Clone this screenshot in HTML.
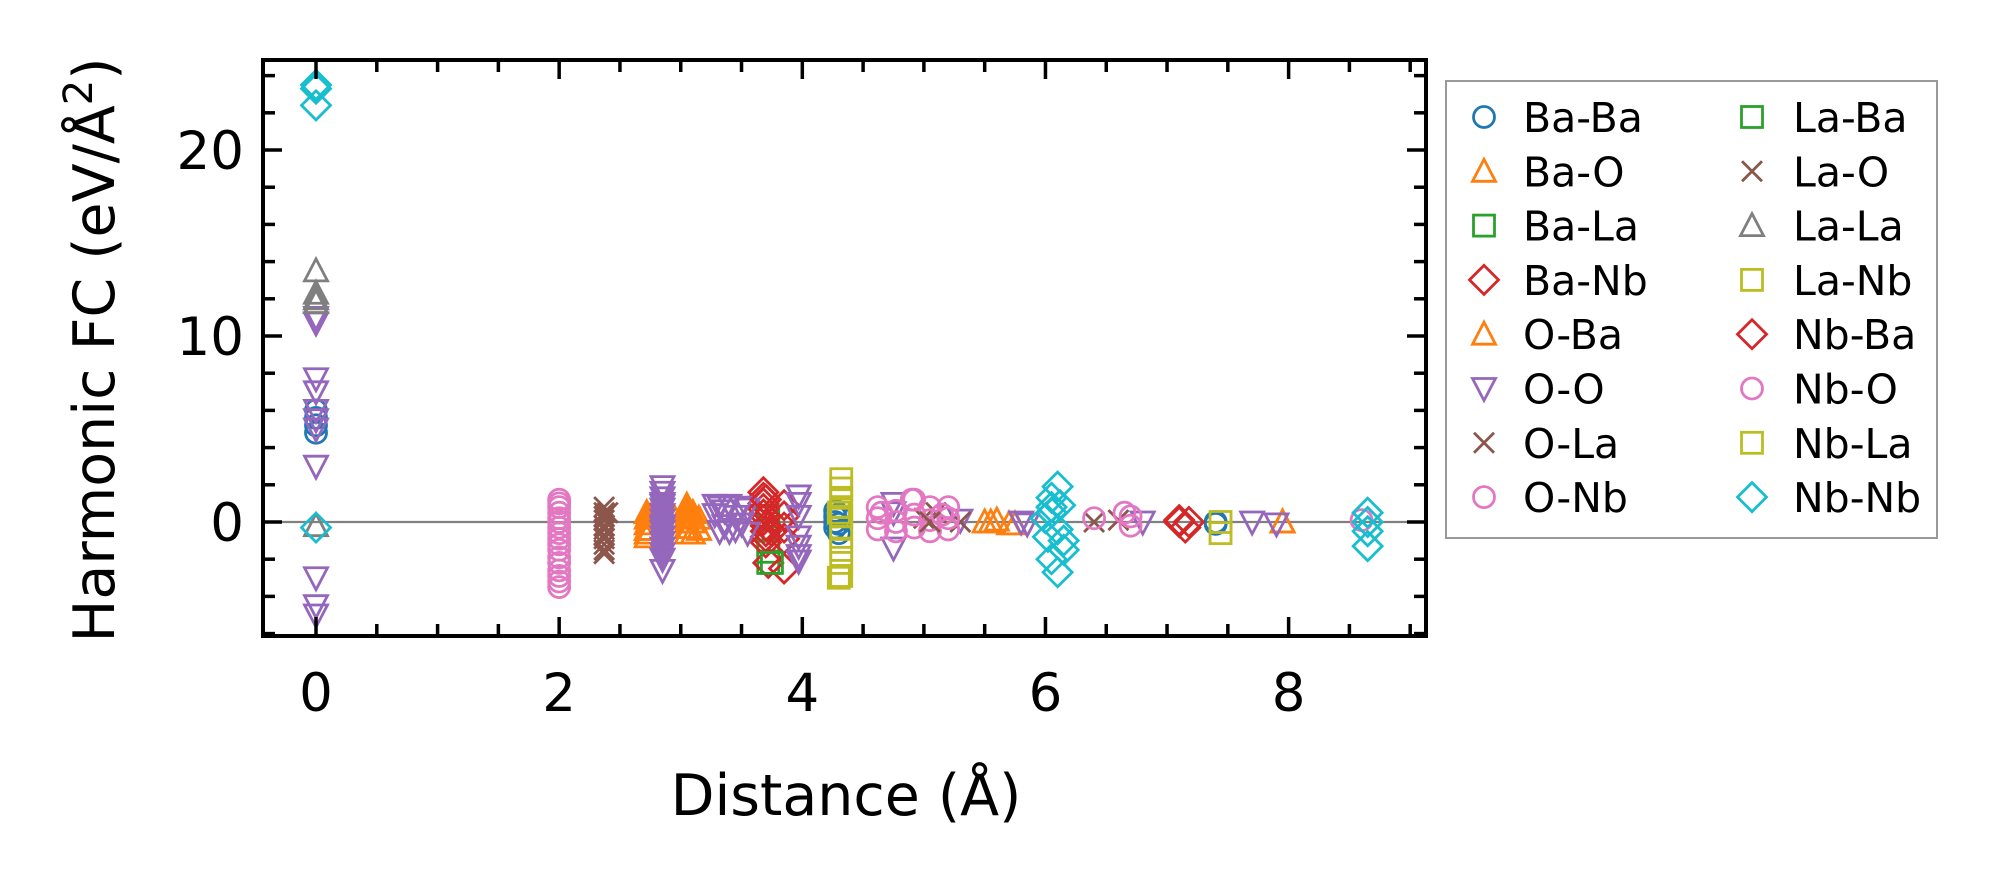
<!DOCTYPE html>
<html><head><meta charset="utf-8"><style>
html,body{margin:0;padding:0;background:#fff}
svg{display:block;font-family:"DejaVu Sans","Liberation Sans",sans-serif}
</style></head><body>
<svg id="chart" width="1996" height="883" viewBox="0 0 1996 883" xmlns="http://www.w3.org/2000/svg">
<g id="marks"></g>
<g id="axes"></g>
<g id="legend"></g>
</svg>
<script>
const seriesNames = ["Ba-Ba","Ba-O","Ba-La","Ba-Nb","O-Ba","O-O","O-La","O-Nb","La-Ba","La-O","La-La","La-Nb","Nb-Ba","Nb-O","Nb-La","Nb-Nb"];
const seriesColors = ["#1f77b4","#ff7f0e","#2ca02c","#d62728","#ff7f0e","#9467bd","#8c564b","#e377c2","#2ca02c","#8c564b","#7f7f7f","#bcbd22","#d62728","#e377c2","#bcbd22","#17becf"];
const seriesMarkers = ["o","^","s","D","^","v","x","o","s","x","^","s","D","o","s","D"];
const xBaBa = [0,0,0,0,4.27,4.27,4.27,4.27,4.3,4.3,4.3,7.4,7.4];
const yBaBa = [6.0,5.2,4.8,5.6,0.6,0.3,0.0,-0.3,-0.6,0.4,-0.1,0.0,-0.1];
const xBaO = [2.72,2.72,2.72,2.72,2.72,2.72,3.05,3.05,3.05,3.05,3.05,3.05,3.15,3.15,5.5,5.6,5.75,7.95];
const yBaO = [0.5,0.2,-0.1,-0.4,-0.6,-0.8,0.9,0.6,0.3,0.0,-0.3,-0.6,0.2,-0.4,0.0,0.1,-0.1,0.0];
const xBaLa = [3.72,3.72,3.72,3.72,3.72];
const yBaLa = [-2.2,-1.6,-1.0,-0.4,0.3];
const xBaNb = [3.68,3.68,3.68,3.68,3.68,3.68,3.7,3.7,3.7,3.7,3.72,3.85,3.85,3.85,3.85,3.85,7.1,7.15];
const yBaNb = [1.6,1.3,1.0,0.7,0.4,0.1,-0.2,-0.5,-0.8,-1.1,-2.2,0.9,0.3,-0.3,-0.9,-2.5,0.0,-0.3];
const xOBa = [2.75,2.75,2.95,3.1,3.1,3.1,5.55,5.7,7.95];
const yOBa = [-0.4,0.3,0.2,-0.6,0.5,0.0,0.0,-0.1,0.0];
const xOO = [0,0,0,0,0,0,0,0,0,0,0,
  2.85,2.85,2.85,2.85,2.85,2.85,2.85,2.85,2.85,2.85,2.85,2.85,2.85,2.85,2.85,2.85,2.85,
  3.28,3.28,3.32,3.36,3.36,3.4,3.4,3.45,3.45,3.5,3.5,3.55,3.55,3.32,
  3.97,3.97,3.97,3.97,3.97,3.97,3.97,4.75,4.75,4.75,5.3,5.8,5.85,6.8,7.7,7.9];
const yOO = [11.0,10.7,7.7,7.0,6.0,5.5,5.0,3.0,-3.0,-4.5,-5.0,
  1.9,1.6,1.3,1.0,0.7,0.4,0.1,-0.2,-0.5,-0.8,-1.1,-1.4,-1.7,-2.0,-2.6,0.9,-0.3,
  0.9,0.4,0.8,-0.2,0.6,0.9,-0.5,0.3,-0.4,0.8,-0.1,0.7,-0.6,-0.5,
  1.4,1.0,0.3,-0.8,-1.3,-1.8,-2.1,1.0,0.5,-1.4,0.1,0.0,-0.1,0.0,0.0,-0.1];
const xOLa = [2.37,2.37,2.37,2.37,2.37,2.37,2.37,2.37,2.37,2.37,2.37,5.0,5.1,5.3,6.4,6.6];
const yOLa = [0.8,0.5,0.3,0.1,-0.2,-0.4,-0.7,-0.9,-1.2,-1.5,-1.7,0.2,0.5,0.0,0.0,0.1];
const xONb = [2.0,2.0,2.0,2.0,2.0,2.0,2.0,2.0,2.0,2.0,2.0,2.0,2.0,2.0,2.0,2.0,2.0,
  4.62,4.62,4.62,4.77,4.77,4.77,4.92,4.92,4.92,5.05,5.05,5.05,5.2,5.2,5.2,6.7,6.7];
const yONb = [1.2,1.0,0.8,0.5,0.2,0.0,-0.3,-0.6,-0.9,-1.2,-1.5,-1.9,-2.2,-2.6,-2.9,-3.2,-3.5,
  0.8,0.2,-0.4,0.6,0.0,-0.5,1.2,0.4,-0.3,0.8,0.1,-0.5,0.8,0.2,-0.4,0.3,-0.2];
const xLaBa = [3.75];
const yLaBa = [-2.2];
const xLaO = [2.4,5.05];
const yLaO = [0.5,0.0];
const xLaLa = [0,0,0,0,0];
const yLaLa = [13.5,12.3,12.0,11.8,-0.2];
const xLaNb = [4.32,4.32,4.32,4.32,4.32,4.32,4.32,4.32,4.32,4.32,4.3,7.44];
const yLaNb = [2.3,1.8,1.3,0.8,0.3,-0.3,-0.8,-1.5,-2.2,-2.9,-3.0,-0.6];
const xNbBa = [3.7,3.75,7.1,7.18];
const yNbBa = [1.2,-0.5,0.1,0.0];
const xNbO = [4.65,4.9,5.15,6.4,6.65,8.6];
const yNbO = [0.5,1.2,0.4,0.2,0.5,0.1];
const xNbLa = [4.3,7.44];
const yNbLa = [0.5,0.0];
const xNbNb = [0,0,0,0,6.05,6.05,6.1,6.15,6.05,6.1,6.0,6.15,6.05,6.1,6.02,6.12,8.65,8.65,8.65,8.65];
const yNbNb = [23.5,23.3,22.4,-0.3,1.3,0.8,1.9,-1.0,-2.0,-2.7,0.2,-1.5,0.5,-0.4,-0.8,0.9,0.5,-1.3,0.0,-0.5];
const seriesX = [xBaBa,xBaO,xBaLa,xBaNb,xOBa,xOO,xOLa,xONb,xLaBa,xLaO,xLaLa,xLaNb,xNbBa,xNbO,xNbLa,xNbNb];
const seriesY = [yBaBa,yBaO,yBaLa,yBaNb,yOBa,yOO,yOLa,yONb,yLaBa,yLaO,yLaLa,yLaNb,yNbBa,yNbO,yNbLa,yNbNb];
const xTicks = [0,2,4,6,8];
const yTicks = [0,10,20];

const NS="http://www.w3.org/2000/svg";
const L=263,R=1426,T=60,B=636;
const xMin=-0.436,xMax=9.13,yMin=-6.13,yMax=24.84;
const sx=v=>L+(v-xMin)/(xMax-xMin)*(R-L);
const sy=v=>B-(v-yMin)/(yMax-yMin)*(B-T);
function mk(tag,attrs,parent){const e=document.createElementNS(NS,tag);for(const k in attrs)e.setAttribute(k,attrs[k]);parent.appendChild(e);return e;}
function marker(type,x,y,c,parent){
  const st={fill:"none",stroke:c,"stroke-width":2.8};
  let e;
  if(type==="o"){e=mk("circle",Object.assign({cx:x,cy:y,r:10.5},st),parent);}
  else if(type==="^"){e=mk("polygon",Object.assign({points:`${x},${y-12} ${x+11.5},${y+10} ${x-11.5},${y+10}`},st),parent);}
  else if(type==="v"){e=mk("polygon",Object.assign({points:`${x},${y+12} ${x+11.5},${y-10} ${x-11.5},${y-10}`},st),parent);}
  else if(type==="s"){e=mk("rect",Object.assign({x:x-10.5,y:y-10.5,width:21,height:21},st),parent);}
  else if(type==="D"){e=mk("polygon",Object.assign({points:`${x},${y-14.5} ${x+14.5},${y} ${x},${y+14.5} ${x-14.5},${y}`},st),parent);}
  else {e=mk("path",Object.assign({d:`M${x-10},${y-10}L${x+10},${y+10}M${x-10},${y+10}L${x+10},${y-10}`},st),parent);}
  return e;
}
const marks=document.getElementById("marks");
const axes=document.getElementById("axes");
const legend=document.getElementById("legend");
const zl=mk("line",{x1:L,x2:R,y1:sy(0),y2:sy(0),stroke:"#808080","stroke-width":2.2},marks);


seriesNames.forEach((n,i)=>{
  const g=mk("g",{},marks);
  
  
  seriesX[i].forEach((xv,j)=>{
    const p=marker(seriesMarkers[i],sx(xv),sy(seriesY[i][j]),seriesColors[i],g);
    
    
  });
});
const fr=mk("rect",{x:L,y:T,width:R-L,height:B-T,fill:"none",stroke:"#000","stroke-width":4},axes);


for(let v=0;v<=9;v+=0.5){
  const major=xTicks.includes(v);const len=major?19:12;const x=sx(v);
  mk("line",{x1:x,x2:x,y1:B,y2:B-len,stroke:"#000","stroke-width":3.5},axes);
  mk("line",{x1:x,x2:x,y1:T,y2:T+len,stroke:"#000","stroke-width":3.5},axes);
}
xTicks.forEach(v=>{
  const t=mk("text",{x:sx(v),y:711,"font-size":53,"text-anchor":"middle",fill:"#000"},axes);
  t.textContent=String(v);
  
  
});
for(let v=-6;v<=24;v+=2){
  const major=yTicks.includes(v);const len=major?19:12;const y=sy(v);
  mk("line",{x1:L,x2:L+len,y1:y,y2:y,stroke:"#000","stroke-width":3.5},axes);
  mk("line",{x1:R,x2:R-len,y1:y,y2:y,stroke:"#000","stroke-width":3.5},axes);
}
yTicks.forEach(v=>{
  const t=mk("text",{x:244,y:sy(v)+19,"font-size":53,"text-anchor":"end",fill:"#000"},axes);
  t.textContent=String(v);
  
  
});
const xl=mk("text",{x:846,y:815,"font-size":57,"text-anchor":"middle",fill:"#000"},axes);
xl.textContent="Distance (Å)";


const yl=mk("text",{x:0,y:0,"font-size":57,"text-anchor":"middle",fill:"#000",transform:"translate(114,350) rotate(-90)"},axes);
yl.innerHTML='Harmonic FC (eV/Å<tspan dy="-22" font-size="40">2</tspan><tspan dy="22">)</tspan>';


const lb=mk("rect",{x:1446,y:81,width:491,height:457,fill:"#fff",stroke:"#999","stroke-width":2},legend);


seriesNames.forEach((n,i)=>{
  const col=Math.floor(i/8),row=i%8;
  const cy=117+row*54.3;
  const mx=col?1752:1484, tx=col?1793:1523;
  const g=mk("g",{},legend);
  
  
  marker(seriesMarkers[i],mx,cy,seriesColors[i],g);
  const t=mk("text",{x:tx,y:cy+15,"font-size":41,fill:"#000"},g);
  t.textContent=n;
});
</script>
</body></html>
